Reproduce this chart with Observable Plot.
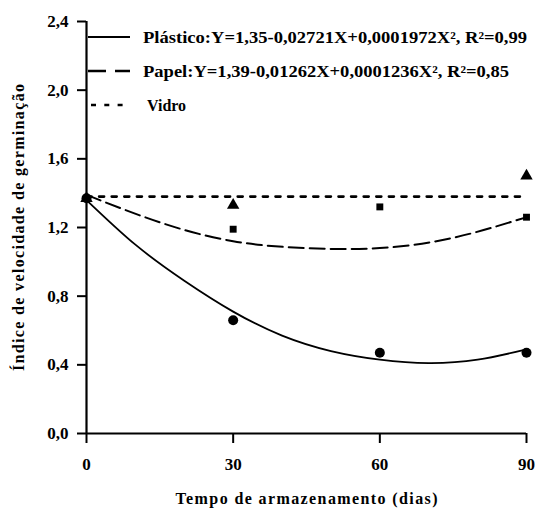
<!DOCTYPE html>
<html>
<head>
<meta charset="utf-8">
<script src="https://cdn.jsdelivr.net/npm/d3@7"></script>
<script src="https://cdn.jsdelivr.net/npm/@observablehq/plot@0.6"></script>
<style>
  body { margin: 0; background: #fff; }
  #wrap { position: relative; width: 535px; height: 510px; }
  #legend { position: absolute; left: 0; top: 0; pointer-events: none; }
  #wrap svg text { font-family: "Liberation Serif", "Times New Roman", serif; font-weight: bold; }
</style>
</head>
<body>
<div id="wrap"></div>
<script>
// ---- data ----
const xTicks = [0, 30, 60, 90];
const yTicks = [0, 0.4, 0.8, 1.2, 1.6, 2.0, 2.4];

const plasticoObs = [[0, 1.37], [30, 0.66], [60, 0.47], [90, 0.47]];
const papelObs    = [[0, 1.37], [30, 1.19], [60, 1.32], [90, 1.26]];
const vidroObs    = [[0, 1.37], [30, 1.33], [90, 1.50]];

// fitted curves
const plasticoFit = [[0, 1.36], [10, 1.10], [20, 0.89], [30, 0.71], [40, 0.57], [50, 0.48], [60, 0.43], [70, 0.41], [80, 0.43], [90, 0.49]];
const papelFit    = [[0, 1.39], [15, 1.23], [30, 1.12], [45, 1.08], [60, 1.08], [75, 1.14], [90, 1.26]];
const vidroFit    = [[0, 1.38], [90, 1.38]];

const legendLabels = [
  "Plástico:Y=1,35-0,02721X+0,0001972X², R²=0,99",
  "Papel:Y=1,39-0,01262X+0,0001236X², R²=0,85",
  "Vidro"
];
const xLabel = "Tempo de armazenamento (dias)";
const yLabel = "Índice de velocidade de germinação";

const font = "Liberation Serif, Times New Roman, serif";
const fmt = d => d.toFixed(1).replace(".", ",");

const chart = Plot.plot({
  width: 535,
  height: 510,
  marginLeft: 86,
  marginRight: 9,
  marginTop: 21,
  marginBottom: 77,
  style: { fontFamily: font, fontWeight: "bold", fontSize: "15px", color: "#000", background: "#fff" },
  x: { domain: [0, 90] },
  y: { domain: [0, 2.4] },
  marks: [
    Plot.axisX({ ticks: xTicks, tickSize: 10, tickPadding: 14, tickFormat: d => String(d), label: null, fontSize: 17, fontFamily: font, fontWeight: "bold", strokeWidth: 2 }),
    Plot.axisY({ ticks: yTicks, tickSize: 9, tickPadding: 9, tickFormat: fmt, label: null, fontSize: 17, fontFamily: font, fontWeight: "bold", strokeWidth: 2 }),
    Plot.ruleX([0], { strokeWidth: 2.2 }),
    Plot.ruleY([0], { strokeWidth: 2.2 }),
    Plot.line(vidroFit, { x: d => d[0], y: d => d[1], strokeWidth: 2.6, strokeDasharray: "5,7.6" }),
    Plot.line(papelFit, { x: d => d[0], y: d => d[1], curve: "natural", strokeWidth: 2, strokeDasharray: "15,6" }),
    Plot.line(plasticoFit, { x: d => d[0], y: d => d[1], curve: "natural", strokeWidth: 1.8 }),
    Plot.dot(vidroObs, { x: d => d[0], y: d => d[1], symbol: "triangle", r: 4.6, fill: "#000" }),
    Plot.dot(papelObs, { x: d => d[0], y: d => d[1], symbol: "square", r: 3.9, fill: "#000" }),
    Plot.dot(plasticoObs, { x: d => d[0], y: d => d[1], symbol: "circle", r: 5, fill: "#000" }),
    Plot.text([yLabel], { frameAnchor: "left", rotate: -90, dx: -68, text: d => d, fontSize: 16, fontFamily: font, fontWeight: "bold", textAnchor: "middle", lineAnchor: "middle", className: "ylab" }),
    Plot.text([xLabel], { frameAnchor: "bottom", dy: 65, text: d => d, fontSize: 16, fontFamily: font, fontWeight: "bold", textAnchor: "middle", lineAnchor: "middle", className: "xlab" })
  ]
});
document.getElementById("wrap").appendChild(chart);

// stretch axis titles to the reference's letter-spaced widths
d3.select(chart).selectAll(".ylab text").attr("textLength", 287).attr("lengthAdjust", "spacing");
d3.select(chart).selectAll(".xlab text").attr("textLength", 262).attr("lengthAdjust", "spacing");

// ---- legend overlay ----
const leg = d3.select("#wrap").append("svg")
  .attr("id", "legend").attr("width", 535).attr("height", 130);
const items = [
  { y: 37, dash: null, sw: 2, x1: 88, x2: 130, tx: 143, tl: 384 },
  { y: 71, dash: "18,9", sw: 2.4, x1: 88, x2: 130, tx: 143, tl: 366 },
  { y: 105, dash: "5,8.3", sw: 2.6, x1: 91, x2: 124, tx: 147, tl: null }
];
items.forEach((it, i) => {
  leg.append("line").attr("x1", it.x1).attr("x2", it.x2).attr("y1", it.y).attr("y2", it.y)
    .attr("stroke", "#000").attr("stroke-width", it.sw).attr("stroke-dasharray", it.dash);
  const t = leg.append("text").attr("x", it.tx).attr("y", it.y + 6)
    .attr("font-family", font).attr("font-weight", "bold").attr("font-size", 16)
    .text(legendLabels[i]);
  if (it.tl) t.attr("textLength", it.tl).attr("lengthAdjust", "spacingAndGlyphs");
});
</script>
</body>
</html>
